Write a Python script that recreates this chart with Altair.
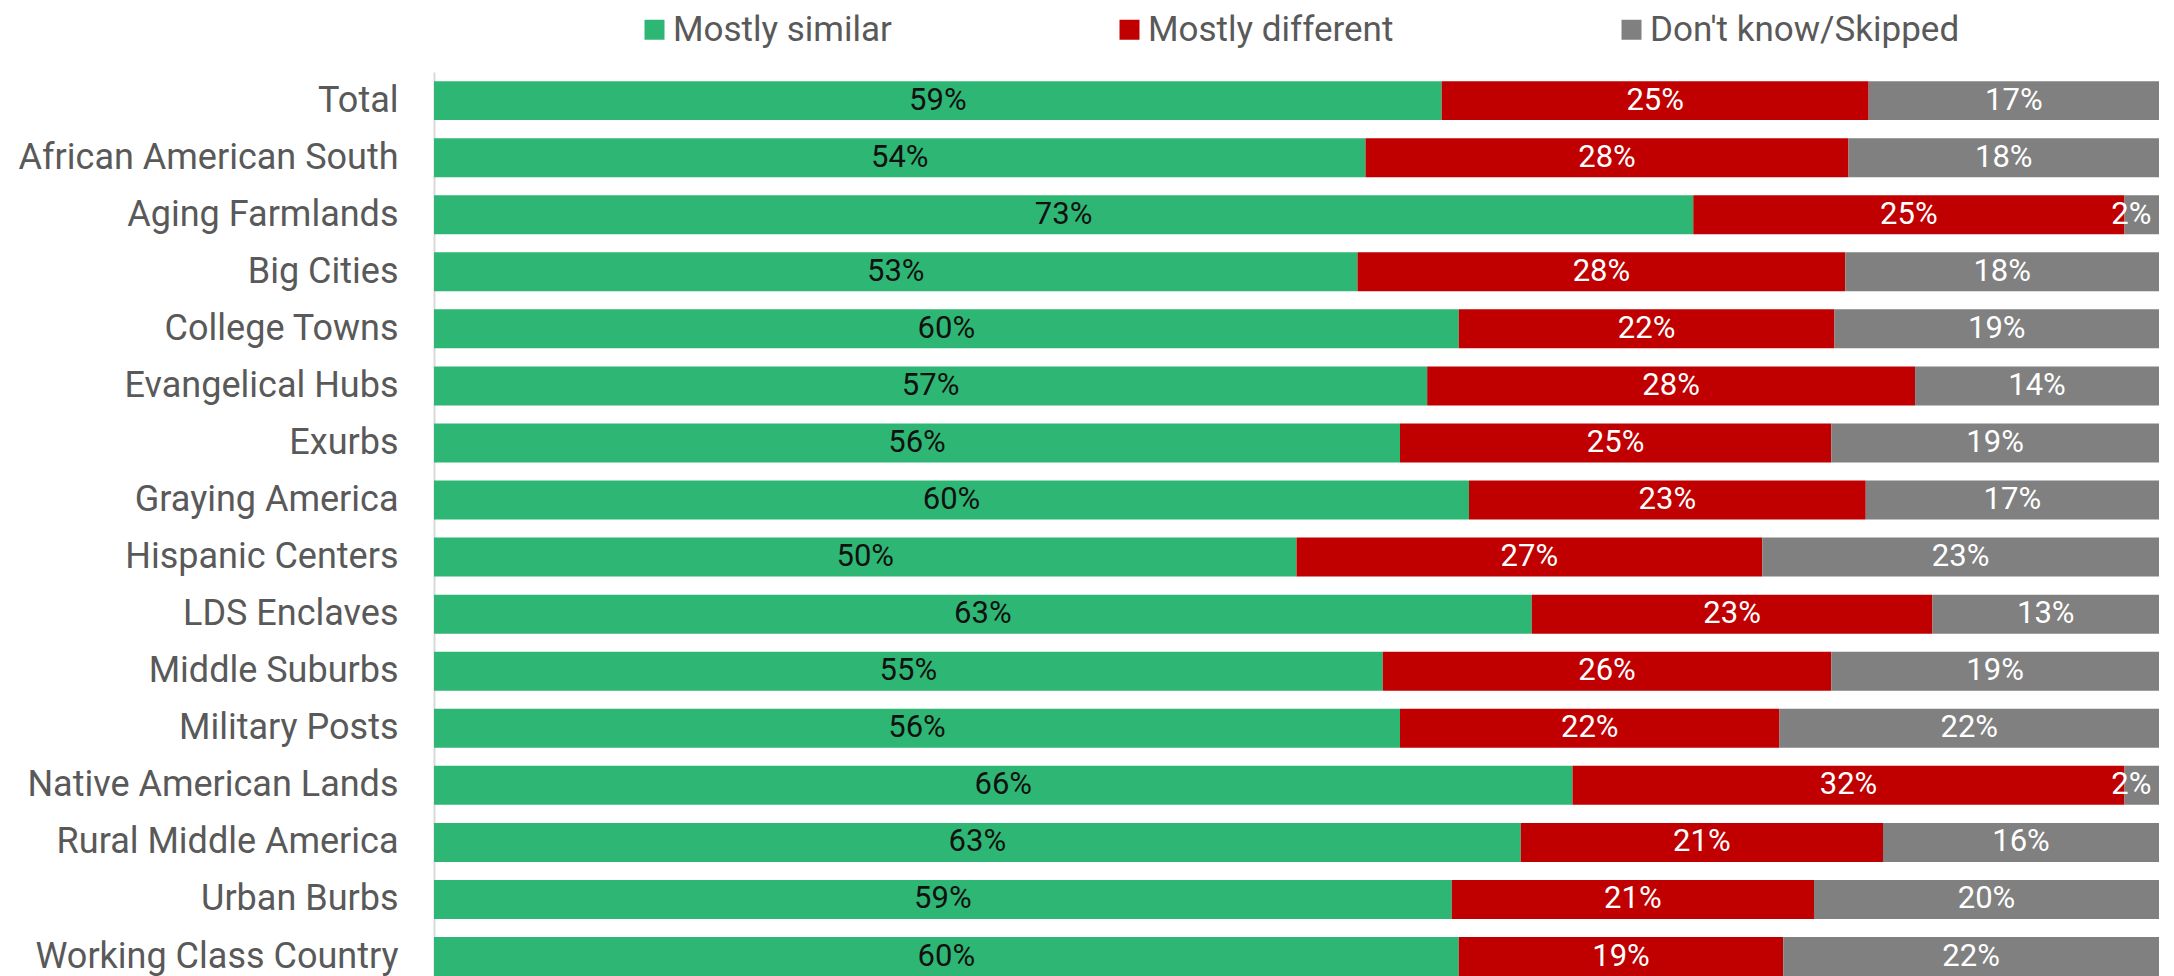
import altair as alt
import pandas as pd

categories = [
    "Total", "African American South", "Aging Farmlands", "Big Cities",
    "College Towns", "Evangelical Hubs", "Exurbs", "Graying America",
    "Hispanic Centers", "LDS Enclaves", "Middle Suburbs", "Military Posts",
    "Native American Lands", "Rural Middle America", "Urban Burbs",
    "Working Class Country",
]
similar = [59, 54, 73, 53, 60, 57, 56, 60, 50, 63, 55, 56, 66, 63, 59, 60]
different = [25, 28, 25, 28, 22, 28, 25, 23, 27, 23, 26, 22, 32, 21, 21, 19]
dontknow = [17, 18, 2, 18, 19, 14, 19, 17, 23, 13, 19, 22, 2, 16, 20, 22]

responses = ["Mostly similar", "Mostly different", "Don't know/Skipped"]
bar_colors = ["#2EB774", "#C00000", "#808080"]
text_colors = ["#111111", "#FFFFFF", "#FFFFFF"]

rows = []
for i, c in enumerate(categories):
    for j, (r, vals) in enumerate(zip(responses, [similar, different, dontknow])):
        rows.append({
            "category": c,
            "response": r,
            "order": j,
            "value": vals[i],
            "label": f"{vals[i]}%",
            "tcolor": text_colors[j],
        })
df = pd.DataFrame(rows)

FONT = "Roboto"

yscale = alt.Scale(paddingInner=0.317, paddingOuter=0.08, align=1)

base = alt.Chart(df).transform_stack(
    stack="value",
    as_=["v0", "v1"],
    groupby=["category"],
    sort=[alt.SortField("order", order="ascending")],
    offset="normalize",
).transform_calculate(mid="min((datum.v0 + datum.v1) / 2, 0.984)")

bars = base.mark_bar().encode(
    x=alt.X("v0:Q", axis=None, scale=alt.Scale(domain=[0, 1], nice=False, zero=True)),
    x2="v1:Q",
    y=alt.Y(
        "category:N",
        sort=categories,
        scale=yscale,
        axis=alt.Axis(
            title=None,
            ticks=False,
            tickSize=0,
            labelFontSize=36,
            labelFont=FONT,
            labelColor="#595959",
            labelPadding=36,
            labelLimit=600,
            domainColor="#D9D9D9",
            domainWidth=2,
            grid=False,
        ),
    ),
    color=alt.Color(
        "response:N",
        scale=alt.Scale(domain=responses, range=bar_colors),
        legend=alt.Legend(
            title=None,
            orient="none",
            legendX=203,
            legendY=-60,
            direction="horizontal",
            symbolType="square",
            symbolSize=400,
            symbolStrokeWidth=0,
            labelFontSize=35,
            labelFont=FONT,
            labelColor="#595959",
            labelOffset=1,
            columnPadding=220,
            labelLimit=600,
        ),
    ),
    order=alt.Order("order:Q"),
)

labels = base.mark_text(fontSize=31, font=FONT, baseline="middle", align="center").encode(
    x=alt.X("mid:Q"),
    y=alt.Y("category:N", sort=categories, scale=yscale),
    text="label:N",
    color=alt.Color("tcolor:N", scale=None),
)

chart = alt.layer(bars, labels).properties(
    width=1725,
    height=904,
    autosize="none",
    padding={"left": 426, "top": 64, "right": 7, "bottom": 0},
).configure_view(stroke=None)

chart.save("out.html", embed_options={"renderer": "svg", "actions": False})
